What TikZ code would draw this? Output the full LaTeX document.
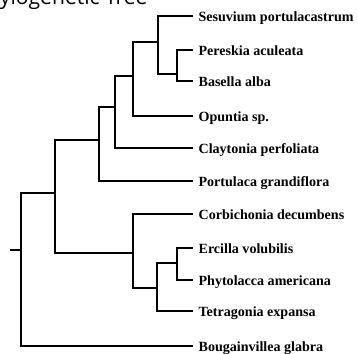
\documentclass[tikz,border=0pt]{standalone}
\usepackage{fontspec}
\setmainfont{Liberation Serif}
\newfontfamily\titlefont{Open Sans}

\begin{document}
\begin{tikzpicture}[x=0.02cm,y=-0.02cm,
  taxon/.style={anchor=west,inner xsep=3pt,inner ysep=0pt,text height=0.66em,text depth=0pt,font=\fontsize{8}{9}\selectfont\bfseries},
  branch/.style={line width=1.3pt}]
\useasboundingbox (0,0) rectangle (358,353);
\node[anchor=base west,inner sep=0pt,font=\titlefont\fontsize{12}{14}\selectfont] (title) at (-26,4) {Phylogenetic Tree};

\node[taxon] (ses) at (193,16) {Sesuvium portulacastrum};
\node[taxon] (per) at (193,50) {Pereskia aculeata};
\node[taxon] (bas) at (193,81) {Basella alba};
\node[taxon] (opu) at (193,116) {Opuntia sp.};
\node[taxon] (cla) at (193,148) {Claytonia perfoliata};
\node[taxon] (por) at (193,181) {Portulaca grandiflora};
\node[taxon] (cor) at (193,214) {Corbichonia decumbens};
\node[taxon] (erc) at (193,248) {Ercilla volubilis};
\node[taxon] (phy) at (193,280) {Phytolacca americana};
\node[taxon] (tet) at (193,311) {Tetragonia expansa};
\node[taxon] (bou) at (193,346) {Bougainvillea glabra};

\coordinate (pb) at (177,74);
\coordinate (sespb) at (158,42);
\coordinate (cact) at (133,76);
\coordinate (clay) at (115,107);
\coordinate (portu) at (99,140);
\coordinate (eh) at (177,263);
\coordinate (tetra) at (157,288);
\coordinate (phyto) at (133,253);
\coordinate (caryo) at (55,193);
\coordinate (base) at (21,250);
\coordinate (root) at (10,250);

\draw[branch] (pb) |- (per.west) (pb) |- (bas.west);
\draw[branch] (sespb) |- (ses.west) (sespb) |- (pb);
\draw[branch] (cact) |- (sespb) (cact) |- (opu.west);
\draw[branch] (clay) |- (cact) (clay) |- (cla.west);
\draw[branch] (portu) |- (clay) (portu) |- (por.west);
\draw[branch] (eh) |- (erc.west) (eh) |- (phy.west);
\draw[branch] (tetra) |- (eh) (tetra) |- (tet.west);
\draw[branch] (phyto) |- (cor.west) (phyto) |- (tetra);
\draw[branch] (caryo) |- (portu) (caryo) |- (phyto);
\draw[branch] (base) |- (caryo) (base) |- (bou.west);
\draw[branch] (root) -- (base);
\end{tikzpicture}
\end{document}
